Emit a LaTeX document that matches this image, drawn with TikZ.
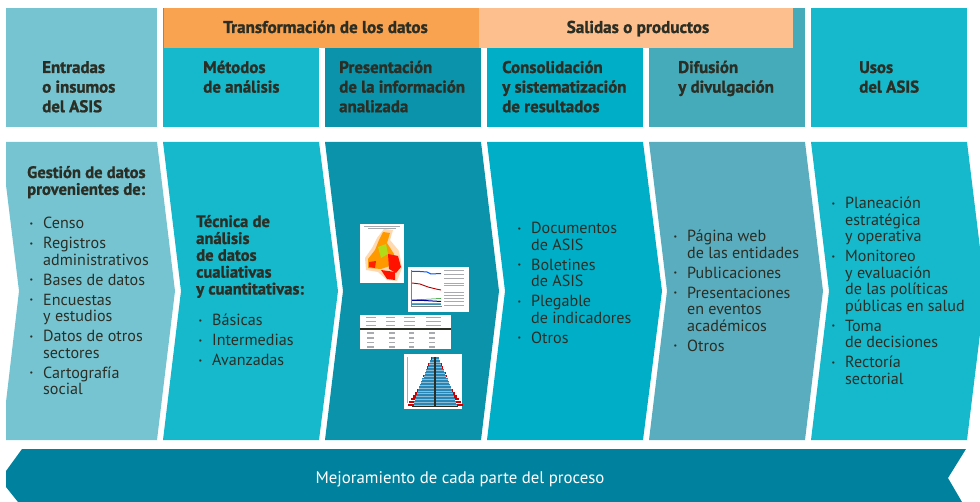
\documentclass[tikz,border=0pt]{standalone}
\usepackage{fontspec}
\setmainfont[BoldFeatures={FakeBold=1.2}]{PT Sans}
\definecolor{cA}{HTML}{76C4D2}
\definecolor{cB}{HTML}{16B8CC}
\definecolor{cC}{HTML}{0A93AB}
\definecolor{cD}{HTML}{00AEC7}
\definecolor{cE}{HTML}{45ABBA}
\definecolor{cF}{HTML}{5AACBF}
\definecolor{cBand}{HTML}{00829E}
\definecolor{cOr}{HTML}{F9A24F}
\definecolor{cLo}{HTML}{FDBF8E}
\definecolor{ink}{HTML}{2B2E24}
\definecolor{smudge}{HTML}{8A8F96}
\definecolor{pyrblue}{HTML}{2A86B4}
\newcommand{\blk}[1]{\begin{tabular}[t]{@{}l@{}}#1\end{tabular}}
\newcommand{\itm}{\llap{\raisebox{2.6pt}{\fontsize{8}{8}\selectfont•}\hspace{10pt}}}
\tikzset{
  x=1pt,y=-1pt,
  head/.style={anchor=base west,inner sep=0,text=ink,font=\fontsize{16.9}{19.6}\selectfont\bfseries},
  band/.style={anchor=base,inner sep=0,text=ink,font=\fontsize{17.1}{19}\selectfont\bfseries},
  lead/.style={anchor=base west,inner sep=0,text=ink,font=\fontsize{16.6}{16.8}\selectfont\bfseries},
  body/.style={anchor=base west,inner sep=0,text=ink,font=\fontsize{16.1}{16.4}\selectfont},
  smear/.style={smudge,line width=1.1pt,opacity=.75},
}
\begin{document}
\begin{tikzpicture}
\useasboundingbox (0,0) rectangle (980,502);
% header boxes
\fill[cA] (6,8) rectangle (157,127);
\fill[cB] (163,8) rectangle (319,127);
\fill[cC] (325,8) rectangle (481,127);
\fill[cD] (487,8) rectangle (643,127);
\fill[cE] (649,8) rectangle (805,127);
\fill[cB] (811,8) rectangle (967,127);
\fill[cOr] (163.5,8) rectangle (479,48);
\fill[cLo] (479,8) rectangle (793,48);
% chevrons
\fill[cA] (6,142) -- (157,142) -- (175,291) -- (157,440) -- (6,440) -- (6,402) -- (19,291) -- (6,185) -- cycle;
\fill[cB] (163,142) -- (319,142) -- (338,291) -- (319,440) -- (163,440) -- (181,291) -- cycle;
\fill[cC] (325,142) -- (481,142) -- (499,291) -- (481,440) -- (325,440) -- (343,291) -- cycle;
\fill[cD] (487,142) -- (643,142) -- (662,291) -- (643,440) -- (487,440) -- (505,291) -- cycle;
\fill[cF] (649,142) -- (805,142) -- (823,291) -- (805,440) -- (649,440) -- (667,291) -- cycle;
\fill[cB] (811,142) -- (967,142) -- (980,248) -- (980,334) -- (967,440) -- (811,440) -- (829,291) -- cycle;
% bottom band
\fill[cBand] (22,449) -- (966,449) -- (948,478) -- (962,502) -- (18,502) -- (6,487) -- (6,471) -- cycle;
% header text
\node[band] (tTrans) at (325.5,33) {Transformación de los datos};
\node[band] (tSal) at (638,33) {Salidas o productos};
\node[head] (h1) at (42,73) {\blk{Entradas\\o insumos\\del ASIS}};
\node[head] (h2) at (203,73) {\blk{Métodos\\de análisis}};
\node[head] (h3) at (339,73) {\blk{Presentación\\de la información\\analizada}};
\node[head] (h4) at (502,73) {\blk{Consolidación\\y sistematización\\de resultados}};
\node[head] (h5) at (678,73) {\blk{Difusión\\y divulgación}};
\node[head] (h6) at (859,73) {\blk{Usos\\del ASIS}};
% chevron text
\node[lead] (l1) at (27,178) {\blk{Gestión de datos\\provenientes de:}};
\node[body] (b1) at (43,229) {\blk{\itm Censo\\[3.6pt]\itm Registros\\administrativos\\[3.6pt]\itm Bases de datos\\[3.6pt]\itm Encuestas\\y estudios\\[3.6pt]\itm Datos de otros\\sectores\\[3.6pt]\itm Cartografía\\social}};
\node[lead] (l2) at (196,227) {\blk{Técnica de\\análisis\\de datos\\cualiativas\\y cuantitativas:}};
\node[body] (b2) at (212,326) {\blk{\itm Básicas\\[3.6pt]\itm Intermedias\\[3.6pt]\itm Avanzadas}};
\node[body] (b4) at (531,234) {\blk{\itm Documentos\\de ASIS\\[3.6pt]\itm Boletines\\de ASIS\\[3.6pt]\itm Plegable\\de indicadores\\[3.6pt]\itm Otros}};
\node[body] (b5) at (687,242) {\blk{\itm Página web\\de las entidades\\[3.6pt]\itm Publicaciones\\[3.6pt]\itm Presentaciones\\en eventos\\académicos\\[3.6pt]\itm Otros}};
\node[body] (b6) at (845,209) {\blk{\itm Planeación\\estratégica\\y operativa\\[3.6pt]\itm Monitoreo\\y evaluación\\de las políticas\\públicas en salud\\[3.6pt]\itm Toma\\de decisiones\\[3.6pt]\itm Rectoría\\sectorial}};
\node[anchor=base,inner sep=0,text=white,font=\fontsize{16.8}{18}\selectfont] (tBand) at (460,483) {Mejoramiento de cada parte del proceso};
% thumbnail: map
\fill[white] (360,224) rectangle (404,283);
\draw[smear,line width=.6pt] (364,226.5) -- (400,226.5) (368,228.5) -- (396,228.5);
\fill[orange!30] (384,229) -- (393,230) -- (390,240) -- (399,251) -- (402,268) -- (397,281) -- (387,280) -- (378,272) -- (366,270) -- (365,258) -- (372,248) -- (377,238) -- cycle;
\fill[orange!80!yellow] (383,232) -- (390,233) -- (387,243) -- (394,254) -- (390,266) -- (381,269) -- (368,268) -- (368,259) -- (375,250) -- (379,240) -- cycle;
\fill[yellow!70!green] (378,247) -- (386,244) -- (388,254) -- (381,258) -- cycle;
\fill[red!85!orange] (388,254) -- (398,256) -- (401,267) -- (396,273) -- (389,269) -- cycle;
\fill[red!85!orange] (381,270) -- (395,272) -- (395,280) -- (387,279) -- cycle;
\fill[red!75!orange] (369,262) -- (376,261) -- (375,268) -- (369,267) -- cycle;
% thumbnail: chart
\fill[white] (408,267) rectangle (469,312);
\draw[gray,line width=.4pt] (411,270) -- (411,306) -- (442,306);
\draw[blue!65!cyan,line width=1pt] (412,271.5) -- (420,271.5) -- (427,272) -- (431,274) -- (441,273.5);
\draw[red!70!black,line width=.9pt] (412,283) -- (420,284) -- (428,287) -- (436,289) -- (441,290);
\draw[green!55!black,line width=.5pt] (412,300) -- (441,298.5);
\draw[blue!60!black,line width=1pt] (412,300.5) -- (424,300.5) -- (441,301.5);
\draw[orange,line width=.7pt] (412,303) -- (441,303);
\draw[cyan!70!black,line width=.6pt] (412,304.5) -- (441,304.5);
\foreach \ly in {270,274,278,283,285,292,295,298,301,305}
  \draw[smear,line width=.7pt] (444,\ly) -- (464,\ly);
% thumbnail: table
\fill[white] (360,315) rectangle (451,349);
\foreach \lx/\lw in {366/10,386/9,404/11,426/15}{
  \draw[smear,line width=1pt] (\lx,318) -- ++(\lw,0) (\lx,322) -- ++(\lw,0) (\lx,326) -- ++(\lw,0);
}
\draw[ink,line width=1.1pt] (360,329) -- (451,329);
\foreach \ry in {333,338,342.5,347}{
  \draw[smear,line width=1.4pt] (367,\ry) -- ++(7,0) (389,\ry) -- ++(6,0) (409,\ry) -- ++(5,0) (429,\ry) -- ++(6,0);
}
% thumbnail: pyramid
\fill[white] (404,354) rectangle (462,409);
\foreach \i in {0,...,16}{
  \pgfmathsetmacro{\py}{357.5+\i*2.9}
  \pgfmathsetmacro{\pw}{3.5+\i*0.95+(\i<8?\i*.35:2.8)}
  \pgfmathsetmacro{\rw}{\pw+(\i>10?(\i-10)*1.0:.5)}
  \fill[red!80!black] ({435-\rw},\py) rectangle ({435+\rw},{\py+2.4});
  \fill[pyrblue] ({435-\pw},\py) rectangle ({435+\pw},{\py+2.95});
  \draw[white,line width=.4pt,opacity=.45] ({435-\pw},{\py+1.4}) -- ({435+\pw},{\py+1.4});
}
\draw[ink,line width=1.1pt] (435,357) -- (435,406);
\draw[ink,line width=.6pt] (412,406.5) -- (458,406.5);
\draw[smear,line width=.8pt] (407,357) -- (407,403);
\end{tikzpicture}
\end{document}
